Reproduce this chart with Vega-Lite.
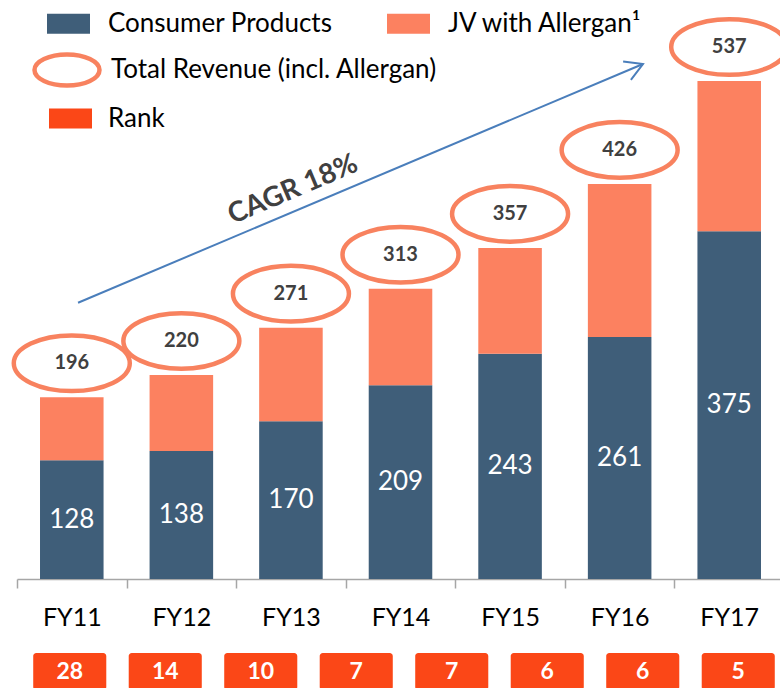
{
  "$schema": "https://vega.github.io/schema/vega-lite/v6.json",
  "width": 767,
  "height": 575,
  "autosize": "none",
  "padding": {"left": 17, "top": 4, "right": 0, "bottom": 109},
  "background": "white",
  "config": {
    "view": {"stroke": null},
    "font": "Lato",
    "legend": {"padding": 0, "labelFont": "Lato", "labelFontSize": 26, "labelColor": "#000000", "labelLimit": 500, "symbolStrokeWidth": 0}
  },
  "datasets": {
    "bars": [
      {"year": "FY11", "series": "Consumer Products", "value": 128},
      {"year": "FY12", "series": "Consumer Products", "value": 138},
      {"year": "FY13", "series": "Consumer Products", "value": 170},
      {"year": "FY14", "series": "Consumer Products", "value": 209},
      {"year": "FY15", "series": "Consumer Products", "value": 243},
      {"year": "FY16", "series": "Consumer Products", "value": 261},
      {"year": "FY17", "series": "Consumer Products", "value": 375},
      {"year": "FY11", "series": "JV with Allergan¹", "value": 68},
      {"year": "FY12", "series": "JV with Allergan¹", "value": 82},
      {"year": "FY13", "series": "JV with Allergan¹", "value": 101},
      {"year": "FY14", "series": "JV with Allergan¹", "value": 104},
      {"year": "FY15", "series": "JV with Allergan¹", "value": 114},
      {"year": "FY16", "series": "JV with Allergan¹", "value": 165},
      {"year": "FY17", "series": "JV with Allergan¹", "value": 162}
    ],
    "totals": [
      {"year": "FY11", "total": 196},
      {"year": "FY12", "total": 220},
      {"year": "FY13", "total": 271},
      {"year": "FY14", "total": 313},
      {"year": "FY15", "total": 357},
      {"year": "FY16", "total": 426},
      {"year": "FY17", "total": 537}
    ],
    "ranks": [
      {"pos": 1, "rank": 28},
      {"pos": 2, "rank": 14},
      {"pos": 3, "rank": 10},
      {"pos": 4, "rank": 7},
      {"pos": 5, "rank": 7},
      {"pos": 6, "rank": 6},
      {"pos": 7, "rank": 6},
      {"pos": 8, "rank": 5}
    ],
    "arrow": [
      {"i": 0.057, "v": 297.9},
      {"i": 5.213, "v": 555.3}
    ],
    "note": [
      {"i": 2.02, "v": 419.5, "label": "CAGR 18%"}
    ]
  },
  "layer": [
    {
      "data": {"name": "bars"},
      "mark": {"type": "bar"},
      "encoding": {
        "x": {"field": "year", "type": "nominal", "sort": null,
          "scale": {"paddingInner": 0.42, "paddingOuter": 0.21},
          "axis": {"title": null, "labelAngle": 0, "labelFont": "Lato", "labelFontSize": 25, "labelColor": "#000000",
            "domainColor": "#a6a6a6", "domainWidth": 1.5, "tickColor": "#a6a6a6", "tickWidth": 1.5, "tickSize": 9,
            "bandPosition": 0, "tickOffset": -23, "labelOffset": 23, "labelPadding": 17, "grid": false}},
        "y": {"field": "value", "type": "quantitative", "stack": "zero",
          "scale": {"domain": [0, 620], "nice": false}, "axis": null},
        "color": {"field": "series", "type": "nominal",
          "scale": {"domain": ["Consumer Products", "JV with Allergan¹"], "range": ["#3f5e79", "#fc8160"]},
          "legend": {"title": null, "orient": "none", "direction": "horizontal", "legendX": 30, "legendY": -2,
            "symbolType": "M-1,-0.465L1,-0.465L1,0.465L-1,0.465Z", "symbolSize": 1849, "labelOffset": 18, "columnPadding": 54}},
        "order": {"field": "series", "sort": "ascending"}
      }
    },
    {
      "data": {"name": "bars"},
      "transform": [{"filter": "datum.series === 'Consumer Products'"}],
      "mark": {"type": "text", "color": "#ffffff", "font": "Lato", "fontSize": 26, "baseline": "middle"},
      "encoding": {
        "x": {"field": "year", "type": "nominal", "sort": null, "scale": {"paddingInner": 0.42, "paddingOuter": 0.21}, "axis": null},
        "y": {"field": "value", "type": "quantitative", "scale": {"domain": [0, 1240], "nice": false}, "axis": null},
        "text": {"field": "value", "type": "quantitative"}
      }
    },
    {
      "data": {"name": "totals"},
      "mark": {"type": "point", "filled": false, "strokeWidth": 4.5, "size": 13456, "yOffset": -34, "opacity": 1,
        "shape": "M-1,0C-1,-0.265 -0.552,-0.48 0,-0.48C0.552,-0.48 1,-0.265 1,0C1,0.265 0.552,0.48 0,0.48C-0.552,0.48 -1,0.265 -1,0Z"},
      "encoding": {
        "x": {"field": "year", "type": "nominal", "sort": null, "scale": {"paddingInner": 0.42, "paddingOuter": 0.21}, "axis": null},
        "y": {"field": "total", "type": "quantitative", "scale": {"domain": [0, 620], "nice": false}, "axis": null},
        "stroke": {"datum": "Total Revenue (incl. Allergan)", "type": "nominal",
          "scale": {"range": ["#f8825f"]},
          "legend": {"title": null, "orient": "none", "legendX": 15, "legendY": 31,
            "symbolType": "M-1,0C-1,-0.265 -0.552,-0.48 0,-0.48C0.552,-0.48 1,-0.265 1,0C1,0.265 0.552,0.48 0,0.48C-0.552,0.48 -1,0.265 -1,0Z",
            "symbolSize": 4225, "symbolStrokeWidth": 4.5, "labelOffset": 9}}
      }
    },
    {
      "data": {"name": "totals"},
      "mark": {"type": "text", "color": "#404040", "font": "Lato", "fontWeight": "bold", "fontSize": 20, "baseline": "middle", "dy": -34},
      "encoding": {
        "x": {"field": "year", "type": "nominal", "sort": null, "scale": {"paddingInner": 0.42, "paddingOuter": 0.21}, "axis": null},
        "y": {"field": "total", "type": "quantitative", "scale": {"domain": [0, 620], "nice": false}, "axis": null},
        "text": {"field": "total", "type": "quantitative"}
      }
    },
    {
      "data": {"name": "arrow"},
      "mark": {"type": "line", "color": "#4a7ebb", "strokeWidth": 2},
      "encoding": {
        "x": {"field": "i", "type": "quantitative", "scale": {"domain": [0, 6], "range": [54.8, 712.2], "nice": false, "zero": false}, "axis": null},
        "y": {"field": "v", "type": "quantitative", "scale": {"domain": [0, 620], "nice": false}, "axis": null}
      }
    },
    {
      "data": {"name": "arrow"},
      "transform": [{"filter": "datum.i > 5"}],
      "mark": {"type": "point", "filled": false, "stroke": "#4a7ebb", "strokeWidth": 2, "opacity": 1, "size": 1200, "angle": 337.1,
        "shape": "M-1,-0.577L0,0L-1,0.577"},
      "encoding": {
        "x": {"field": "i", "type": "quantitative", "scale": {"domain": [0, 6], "range": [54.8, 712.2], "nice": false, "zero": false}, "axis": null},
        "y": {"field": "v", "type": "quantitative", "scale": {"domain": [0, 620], "nice": false}, "axis": null}
      }
    },
    {
      "data": {"name": "note"},
      "mark": {"type": "text", "color": "#404040", "font": "Lato", "fontWeight": "bold", "fontSize": 28, "angle": 337, "align": "center", "baseline": "middle"},
      "encoding": {
        "x": {"field": "i", "type": "quantitative", "scale": {"domain": [0, 6], "range": [54.8, 712.2], "nice": false, "zero": false}, "axis": null},
        "y": {"field": "v", "type": "quantitative", "scale": {"domain": [0, 620], "nice": false}, "axis": null},
        "text": {"field": "label"}
      }
    },
    {
      "data": {"name": "ranks"},
      "mark": {"type": "bar", "cornerRadius": 3},
      "encoding": {
        "x": {"field": "pos", "type": "ordinal", "scale": {"range": [5, 769], "paddingInner": 0.235, "paddingOuter": 0.1175}, "axis": null},
        "y": {"datum": 0, "type": "quantitative", "scale": {"domain": [0, 1], "range": [686, 649], "nice": false}, "axis": null},
        "y2": {"datum": 1},
        "color": {"datum": "Rank", "type": "nominal", "scale": {"range": ["#fb4717"]},
          "legend": {"title": null, "orient": "none", "legendX": 32, "legendY": 93,
            "symbolType": "M-1,-0.465L1,-0.465L1,0.465L-1,0.465Z", "symbolSize": 1849, "labelOffset": 16}}
      }
    },
    {
      "data": {"name": "ranks"},
      "mark": {"type": "text", "color": "#ffffff", "font": "Lato", "fontWeight": "bold", "fontSize": 23, "baseline": "middle"},
      "encoding": {
        "x": {"field": "pos", "type": "ordinal", "scale": {"range": [5, 769], "paddingInner": 0.235, "paddingOuter": 0.1175}, "axis": null},
        "y": {"datum": 0.5, "type": "quantitative", "scale": {"domain": [0, 1], "range": [686, 649], "nice": false}, "axis": null},
        "text": {"field": "rank", "type": "quantitative"}
      }
    }
  ],
  "resolve": {"scale": {"x": "independent", "y": "independent", "color": "independent", "stroke": "independent"}}
}
